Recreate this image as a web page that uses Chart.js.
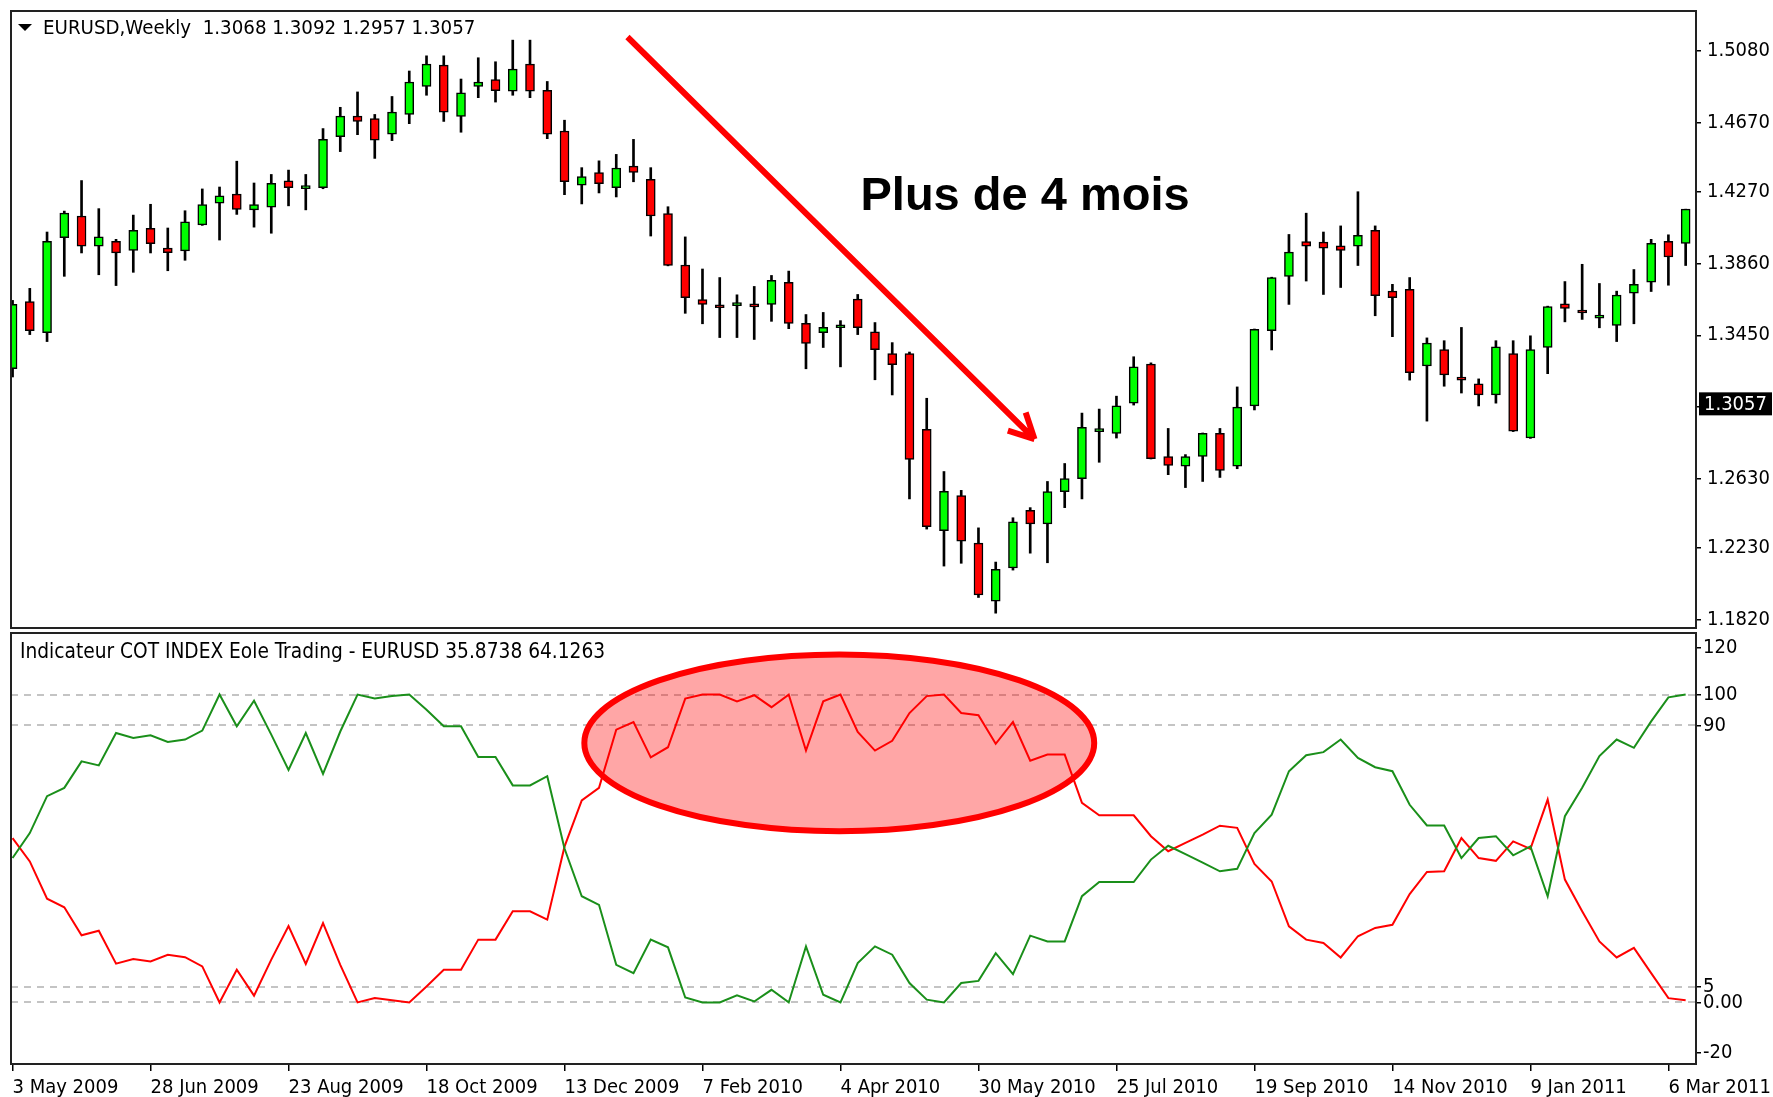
<!DOCTYPE html>
<html>
<head>
<meta charset="utf-8">
<title>EURUSD Weekly - Indicateur COT INDEX</title>
<script src="https://cdn.jsdelivr.net/npm/chart.js@4"></script>
<style>
    body { margin: 0; background: #fff; }
    #wrap { position: relative; width: 1773px; height: 1097px; overflow: hidden; }
    canvas { position: absolute; left: 0; }
    #price { top: 0; }
    #cot { top: 630px; }
</style>
</head>
<body>
<div id="wrap">
    <canvas id="price" width="1773" height="631"></canvas>
    <canvas id="cot" width="1773" height="467"></canvas>
</div>
<script>
// weekly candles, 3 May 2009 -> 13 Mar 2011
var opens = [1.3258, 1.3643, 1.3465, 1.4010, 1.4134, 1.3961, 1.3989, 1.3936, 1.4063, 1.3950,
    1.3934, 1.4083, 1.4208, 1.4259, 1.4169, 1.4185, 1.4335, 1.4291, 1.4296, 1.4589,
    1.4706, 1.4692, 1.4603, 1.4716, 1.4877, 1.4999, 1.4704, 1.4877, 1.4916, 1.4849,
    1.5004, 1.4854, 1.4621, 1.4310, 1.4383, 1.4296, 1.4420, 1.4344, 1.4148, 1.3853,
    1.3654, 1.3612, 1.3620, 1.3617, 1.3627, 1.3754, 1.3518, 1.3465, 1.3493, 1.3657,
    1.3470, 1.3345, 1.3345, 1.2911, 1.2330, 1.2531, 1.2259, 1.1926, 1.2116, 1.2446,
    1.2369, 1.2554, 1.2628, 1.2898, 1.2888, 1.3061, 1.3285, 1.2755, 1.2699, 1.2755,
    1.2888, 1.2699, 1.3045, 1.3477, 1.3788, 1.3987, 1.3984, 1.3963, 1.3961, 1.4051,
    1.3703, 1.3714, 1.3274, 1.3368, 1.3197, 1.3172, 1.3108, 1.3345, 1.2861, 1.3380,
    1.3631, 1.3582, 1.3548, 1.3507, 1.3691, 1.3754, 1.3989, 1.3977];
var highs = [1.3650, 1.3719, 1.4042, 1.4162, 1.4337, 1.4176, 1.4000, 1.4139, 1.4201, 1.4065,
    1.4164, 1.4289, 1.4300, 1.4448, 1.4323, 1.4372, 1.4397, 1.4372, 1.4635, 1.4757,
    1.4845, 1.4716, 1.4819, 1.4965, 1.5052, 1.5052, 1.4919, 1.5041, 1.5018, 1.5142,
    1.5142, 1.4905, 1.4683, 1.4411, 1.4450, 1.4487, 1.4573, 1.4411, 1.4187, 1.4014,
    1.3830, 1.3781, 1.3682, 1.3730, 1.3793, 1.3818, 1.3569, 1.3581, 1.3534, 1.3684,
    1.3523, 1.3408, 1.3354, 1.3089, 1.2669, 1.2561, 1.2346, 1.2150, 1.2404, 1.2462,
    1.2612, 1.2715, 1.3004, 1.3027, 1.3101, 1.3327, 1.3292, 1.2916, 1.2766, 1.2890,
    1.2916, 1.3154, 1.3486, 1.3783, 1.4028, 1.4150, 1.4042, 1.4077, 1.4273, 1.4077,
    1.3742, 1.3781, 1.3435, 1.3419, 1.3495, 1.3200, 1.3419, 1.3419, 1.3447, 1.3617,
    1.3758, 1.3857, 1.3747, 1.3703, 1.3827, 1.4000, 1.4026, 1.4173];
var lows = [1.3211, 1.3454, 1.3414, 1.3788, 1.3922, 1.3797, 1.3735, 1.3811, 1.3922, 1.3820,
    1.3880, 1.4080, 1.3996, 1.4143, 1.4070, 1.4035, 1.4192, 1.4169, 1.4290, 1.4503,
    1.4600, 1.4464, 1.4566, 1.4663, 1.4826, 1.4676, 1.4614, 1.4812, 1.4787, 1.4826,
    1.4812, 1.4577, 1.4256, 1.4203, 1.4266, 1.4243, 1.4330, 1.4019, 1.3848, 1.3576,
    1.3516, 1.3437, 1.3437, 1.3426, 1.3530, 1.3488, 1.3258, 1.3380, 1.3269, 1.3454,
    1.3195, 1.3108, 1.2512, 1.2339, 1.2127, 1.2143, 1.1947, 1.1857, 1.2104, 1.2201,
    1.2146, 1.2462, 1.2512, 1.2722, 1.2861, 1.3050, 1.2741, 1.2651, 1.2577, 1.2612,
    1.2635, 1.2685, 1.3022, 1.3366, 1.3627, 1.3761, 1.3684, 1.3724, 1.3850, 1.3562,
    1.3442, 1.3193, 1.2958, 1.3158, 1.3119, 1.3045, 1.3061, 1.2898, 1.2859, 1.3230,
    1.3527, 1.3541, 1.3493, 1.3414, 1.3516, 1.3701, 1.3737, 1.3850];
var closes = [1.3627, 1.3477, 1.3989, 1.4150, 1.3961, 1.4014, 1.3922, 1.4051, 1.3975, 1.3924,
    1.4100, 1.4199, 1.4250, 1.4171, 1.4199, 1.4321, 1.4296, 1.4293, 1.4573, 1.4706,
    1.4676, 1.4568, 1.4729, 1.4902, 1.5004, 1.4729, 1.4840, 1.4902, 1.4852, 1.4976,
    1.4849, 1.4603, 1.4330, 1.4360, 1.4319, 1.4409, 1.4383, 1.4134, 1.3850, 1.3666,
    1.3627, 1.3608, 1.3624, 1.3613, 1.3765, 1.3518, 1.3403, 1.3495, 1.3497, 1.3493,
    1.3368, 1.3281, 1.2738, 1.2353, 1.2556, 1.2270, 1.1961, 1.2109, 1.2381, 1.2369,
    1.2554, 1.2628, 1.2923, 1.2902, 1.3045, 1.3269, 1.2743, 1.2704, 1.2755, 1.2888,
    1.2676, 1.3038, 1.3484, 1.3781, 1.3927, 1.3961, 1.3950, 1.3936, 1.4023, 1.3677,
    1.3666, 1.3235, 1.3405, 1.3223, 1.3193, 1.3108, 1.3384, 1.2900, 1.3368, 1.3615,
    1.3604, 1.3578, 1.3552, 1.3680, 1.3742, 1.3977, 1.3899, 1.4173];

// COT index, one value per week
var cotGreen = [46.9, 55.0, 67.0, 69.7, 78.3, 77.0, 87.5, 85.9, 86.8, 84.6,
    85.4, 88.3, 100, 89.7, 98.0, 87.0, 75.5, 87.5, 74.2, 88.0,
    100, 98.7, 99.5, 100, 95.1, 89.7, 89.7, 79.7, 79.7, 70.5,
    70.5, 73.5, 50.0, 34.5, 31.7, 12.2, 9.5, 20.4, 17.9, 1.6,
    0, 0, 2.3, 0.3, 4.1, 0, 18.2, 2.5, 0, 12.8,
    18.2, 15.5, 6.3, 0.9, 0, 6.3, 7.0, 16.0, 9.2, 21.7,
    19.8, 19.8, 34.5, 39.1, 39.1, 39.1, 46.4, 50.9, 48.2, 45.4,
    42.6, 43.4, 55.0, 61.0, 75.1, 80.3, 81.3, 85.4, 79.4, 76.4,
    75.1, 64.2, 57.5, 57.5, 46.9, 53.4, 54.0, 47.8, 50.7, 34.5,
    60.5, 69.7, 80.0, 85.4, 82.7, 91.3, 99.1, 100];
var cotRed = [53.4, 45.8, 33.7, 30.9, 21.8, 23.3, 12.6, 14.1, 13.3, 15.5,
    14.7, 11.7, 0, 10.6, 2.2, 13.9, 24.8, 12.5, 25.8, 12.2,
    0, 1.4, 0.7, 0, 5.2, 10.6, 10.6, 20.4, 20.4, 29.6,
    29.6, 26.9, 50.6, 65.6, 69.7, 88.6, 91.1, 79.6, 82.9, 98.7,
    100, 100, 97.8, 99.8, 95.9, 100, 81.8, 97.8, 100, 87.9,
    81.8, 85.0, 94.0, 99.5, 100, 94.0, 93.3, 84.0, 91.1, 78.5,
    80.5, 80.5, 64.8, 60.8, 60.8, 60.8, 54.0, 49.1, 51.8, 54.5,
    57.4, 56.7, 45.0, 39.3, 24.7, 20.4, 19.3, 14.6, 21.5, 24.2,
    25.2, 35.2, 42.4, 42.6, 53.4, 46.9, 46.0, 52.3, 49.9, 65.9,
    39.9, 29.6, 19.8, 14.6, 17.7, 9.5, 1.4, 0.7];

var xLabels = ["3 May 2009", "28 Jun 2009", "23 Aug 2009", "18 Oct 2009", "13 Dec 2009",
    "7 Feb 2010", "4 Apr 2010", "30 May 2010", "25 Jul 2010", "19 Sep 2010",
    "14 Nov 2010", "9 Jan 2011", "6 Mar 2011"];
var xLabelStep = 8;
var priceTicks = [1.182, 1.223, 1.263, 1.304, 1.345, 1.386, 1.427, 1.467, 1.508];
var cotTicks = [-20, 0, 5, 90, 100, 120];
var cotLevels = [0, 5, 90, 100];
var lastQuote = [1.3068, 1.3092, 1.2957, 1.3057];
var cotHeader = [35.8738, 64.1263];

var FONT = "'DejaVu Sans Condensed', 'DejaVu Sans', sans-serif";
var X_MIN = -0.09, X_MAX = 97.6;
var idx = closes.map(function (c, i) { return i; });

function frame(chart) {
    var a = chart.chartArea, ctx = chart.ctx;
    ctx.save();
    ctx.strokeStyle = "#222";
    ctx.lineWidth = 2;
    ctx.strokeRect(a.left, a.top, a.right - a.left, a.bottom - a.top);
    ctx.restore();
}

// arrow, caption, header and last price box on the price pane
var pricePlugin = {
    id: "priceDecor",
    afterDatasetsDraw: function (chart) {
        var ctx = chart.ctx, xs = chart.scales.x, ys = chart.scales.y;
        ctx.save();
        // arrow
        var x1 = xs.getPixelForValue(35.65), y1 = ys.getPixelForValue(1.516);
        var x2 = xs.getPixelForValue(59.25), y2 = ys.getPixelForValue(1.2855);
        ctx.strokeStyle = "#ff0000";
        ctx.lineWidth = 6;
        ctx.beginPath();
        ctx.moveTo(x1, y1);
        ctx.lineTo(x2, y2);
        var ang = Math.atan2(y1 - y2, x1 - x2);
        [-0.47, 0.47].forEach(function (d) {
            ctx.moveTo(x2, y2);
            ctx.lineTo(x2 + 28 * Math.cos(ang + d), y2 + 28 * Math.sin(ang + d));
        });
        ctx.stroke();
        // caption
        ctx.fillStyle = "#000";
        ctx.font = "bold 47px 'Liberation Sans', Arial, sans-serif";
        ctx.textBaseline = "alphabetic";
        ctx.fillText("Plus de 4 mois", xs.getPixelForValue(49.16), ys.getPixelForValue(1.4169));
        ctx.restore();
        frame(chart);
    },
    afterDraw: function (chart) {
        var ctx = chart.ctx, ys = chart.scales.y, a = chart.chartArea;
        ctx.save();
        // header
        ctx.fillStyle = "#000";
        ctx.beginPath();
        ctx.moveTo(18, 24);
        ctx.lineTo(32, 24);
        ctx.lineTo(25, 31);
        ctx.closePath();
        ctx.fill();
        ctx.font = "20.3px " + FONT;
        ctx.textBaseline = "middle";
        ctx.fillText("EURUSD,Weekly  " + lastQuote.map(function (v) { return v.toFixed(4); }).join(" "), 43, 29);
        // last price box
        var y = ys.getPixelForValue(lastQuote[3]);
        ctx.font = "20px " + FONT;
        ctx.fillStyle = "#000";
        ctx.fillRect(a.right + 3, y - 11.5, 73, 23);
        ctx.fillStyle = "#fff";
        ctx.fillText(lastQuote[3].toFixed(4), a.right + 8, y + 1);
        ctx.restore();
    }
};

var cotPlugin = {
    id: "cotDecor",
    beforeDatasetsDraw: function (chart) {
        var ctx = chart.ctx, ys = chart.scales.y, a = chart.chartArea;
        ctx.save();
        ctx.strokeStyle = "#c4c4c4";
        ctx.lineWidth = 2;
        ctx.setLineDash([7, 6]);
        cotLevels.forEach(function (v) {
            var y = Math.round(ys.getPixelForValue(v));
            ctx.beginPath();
            ctx.moveTo(a.left, y);
            ctx.lineTo(a.right, y);
            ctx.stroke();
        });
        ctx.restore();
    },
    afterDatasetsDraw: function (chart) {
        var ctx = chart.ctx, xs = chart.scales.x, ys = chart.scales.y;
        ctx.save();
        var cx = xs.getPixelForValue(47.93), cy = ys.getPixelForValue(84.3);
        var rx = xs.getPixelForValue(47.93 + 14.78) - cx;
        var ry = cy - ys.getPixelForValue(84.3 + 28.7);
        ctx.beginPath();
        ctx.ellipse(cx, cy, rx, ry, 0, 0, Math.PI * 2);
        ctx.fillStyle = "rgba(255, 0, 0, 0.35)";
        ctx.fill();
        ctx.strokeStyle = "#ff0000";
        ctx.lineWidth = 6;
        ctx.stroke();
        // title
        ctx.fillStyle = "#000";
        ctx.font = "20.7px " + FONT;
        ctx.textBaseline = "middle";
        ctx.fillText("Indicateur COT INDEX Eole Trading - EURUSD " + cotHeader.map(function (v) { return v.toFixed(4); }).join(" "), 20, 23);
        ctx.restore();
        frame(chart);
    }
};

Chart.defaults.font.family = FONT;
Chart.defaults.font.size = 20;
Chart.defaults.color = "#000";

new Chart("price", {
    type: "bar",
    data: {
        datasets: [{
            label: "body",
            data: idx.map(function (i) { return { x: i, y: [opens[i], closes[i]] }; }),
            backgroundColor: idx.map(function (i) { return closes[i] >= opens[i] ? "#00ff00" : "#ff0000"; }),
            borderColor: "#000",
            borderWidth: 1.5,
            borderSkipped: false,
            barThickness: 9,
            minBarLength: 3,
            grouped: false
        }, {
            label: "wick",
            data: idx.map(function (i) { return { x: i, y: [lows[i], highs[i]] }; }),
            backgroundColor: "#000",
            borderWidth: 0,
            barThickness: 2,
            grouped: false
        }]
    },
    options: {
        responsive: false,
        animation: false,
        devicePixelRatio: 1,
        layout: { padding: { left: 11, top: 11, right: 0, bottom: 3 } },
        plugins: { legend: { display: false }, tooltip: { enabled: false } },
        scales: {
            x: { type: "linear", min: X_MIN, max: X_MAX, offset: false, display: false },
            y: {
                position: "right",
                min: 1.1772,
                max: 1.5309,
                afterBuildTicks: function (s) { s.ticks = priceTicks.map(function (v) { return { value: v }; }); },
                afterFit: function (s) { s.width = 77; s.paddingTop = 0; s.paddingBottom = 0; },
                ticks: {
                    autoSkip: false,
                    padding: 6,
                    callback: function (v) { return v.toFixed(4); }
                },
                grid: { drawOnChartArea: false, tickLength: 5, color: "#000", lineWidth: 1.5 },
                border: { color: "#222", width: 2 }
            }
        }
    },
    plugins: [pricePlugin]
});

new Chart("cot", {
    type: "line",
    data: {
        datasets: [{
            label: "green",
            data: cotGreen.map(function (v, i) { return { x: i, y: v }; }),
            borderColor: "#1a8f1a",
            borderWidth: 2,
            pointRadius: 0,
            tension: 0
        }, {
            label: "red",
            data: cotRed.map(function (v, i) { return { x: i, y: v }; }),
            borderColor: "#ff0000",
            borderWidth: 2,
            pointRadius: 0,
            tension: 0
        }]
    },
    options: {
        responsive: false,
        animation: false,
        devicePixelRatio: 1,
        layout: { padding: { left: 11, top: 3, right: 0, bottom: 0 } },
        plugins: { legend: { display: false }, tooltip: { enabled: false } },
        scales: {
            x: {
                type: "linear",
                min: X_MIN,
                max: X_MAX,
                offset: false,
                afterBuildTicks: function (s) {
                    s.ticks = xLabels.map(function (l, k) { return { value: k * xLabelStep }; });
                },
                afterFit: function (s) { s.height = 33; s.paddingLeft = 0; s.paddingRight = 0; },
                ticks: {
                    autoSkip: false,
                    maxRotation: 0,
                    align: "start",
                    padding: 5,
                    callback: function (v, k) { return xLabels[k]; }
                },
                grid: { drawOnChartArea: false, tickLength: 7, color: "#000", lineWidth: 1.5 },
                border: { color: "#222", width: 2 }
            },
            y: {
                position: "right",
                min: -20,
                max: 120,
                // labels at the pane edges are pushed inside, as the terminal does
                afterBuildTicks: function (s) {
                    s.ticks = cotTicks.map(function (v) {
                        return { value: v === s.max ? v - 4.9 : (v === s.min ? v + 3.8 : v) };
                    });
                },
                afterFit: function (s) { s.width = 77; s.paddingTop = 0; s.paddingBottom = 0; },
                ticks: {
                    autoSkip: false,
                    padding: 2,
                    callback: function (v, k) { return cotTicks[k] === 0 ? "0.00" : String(cotTicks[k]); }
                },
                grid: { drawOnChartArea: false, tickLength: 5, color: "#000", lineWidth: 1.5 },
                border: { color: "#222", width: 2 }
            }
        }
    },
    plugins: [cotPlugin]
});
</script>
</body>
</html>
